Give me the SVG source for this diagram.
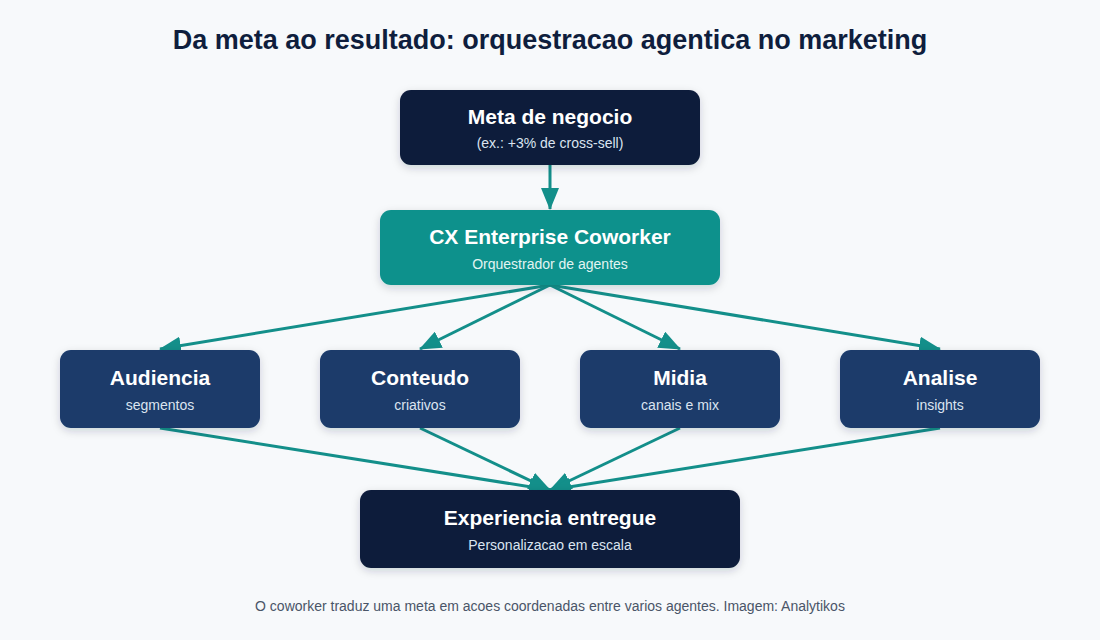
<svg xmlns="http://www.w3.org/2000/svg" width="1100" height="640" viewBox="0 0 1100 640">
  <style>
    .title { font-family: "Liberation Sans", Arial, sans-serif; font-weight: bold; font-size: 27px; fill: #0f1e3d; text-anchor: middle; }
    .nt { font-family: "Liberation Sans", Arial, sans-serif; font-weight: bold; font-size: 21px; fill: #ffffff; text-anchor: middle; }
    .ns { font-family: "Liberation Sans", Arial, sans-serif; font-size: 14px; fill: #dbe4f0; text-anchor: middle; }
    .foot { font-family: "Liberation Sans", Arial, sans-serif; font-size: 14px; fill: #4a5568; text-anchor: middle; }
    .dark { fill: #0f1c3b; }
    .teal { fill: #0f918c; }
    .blue { fill: #1a3a6b; }
    .conn { stroke: #138f8a; stroke-width: 3; fill: none; marker-end: url(#ah); }
  </style>
  <defs>
    <filter id="sh" x="-10%" y="-20%" width="120%" height="150%">
      <feDropShadow dx="0" dy="3" stdDeviation="4" flood-color="#0f1c3b" flood-opacity="0.18"/>
    </filter>
    <marker id="ah" markerUnits="userSpaceOnUse" markerWidth="22" markerHeight="18" refX="21" refY="9" orient="auto">
      <path d="M0,0 L22,9 L0,18 z" fill="#138f8a"/>
    </marker>
  </defs>
  <rect width="1100" height="640" fill="#f7f9fb"/>
  <text class="title" x="550" y="49">Da meta ao resultado: orquestracao agentica no marketing</text>

  <g id="connectors">
    <line class="conn" x1="550" y1="165" x2="550" y2="209"/>
    <line class="conn" x1="550" y1="285" x2="160" y2="349"/>
    <line class="conn" x1="550" y1="285" x2="420" y2="349"/>
    <line class="conn" x1="550" y1="285" x2="680" y2="349"/>
    <line class="conn" x1="550" y1="285" x2="940" y2="349"/>
    <line class="conn" x1="160" y1="428" x2="550" y2="490"/>
    <line class="conn" x1="420" y1="428" x2="550" y2="490"/>
    <line class="conn" x1="680" y1="428" x2="550" y2="490"/>
    <line class="conn" x1="940" y1="428" x2="550" y2="490"/>
  </g>

  <g id="meta">
    <rect class="dark" x="400" y="90" width="300" height="75" rx="11" filter="url(#sh)"/>
    <text class="nt" x="550" y="124">Meta de negocio</text>
    <text class="ns" x="550" y="148">(ex.: +3% de cross-sell)</text>
  </g>
  <g id="coworker">
    <rect class="teal" x="380" y="210" width="340" height="75" rx="11" filter="url(#sh)"/>
    <text class="nt" x="550" y="244">CX Enterprise Coworker</text>
    <text class="ns" x="550" y="269" style="fill:#e2f4f2">Orquestrador de agentes</text>
  </g>
  <g id="audiencia">
    <rect class="blue" x="60" y="350" width="200" height="78" rx="11" filter="url(#sh)"/>
    <text class="nt" x="160" y="385">Audiencia</text>
    <text class="ns" x="160" y="410">segmentos</text>
  </g>
  <g id="conteudo">
    <rect class="blue" x="320" y="350" width="200" height="78" rx="11" filter="url(#sh)"/>
    <text class="nt" x="420" y="385">Conteudo</text>
    <text class="ns" x="420" y="410">criativos</text>
  </g>
  <g id="midia">
    <rect class="blue" x="580" y="350" width="200" height="78" rx="11" filter="url(#sh)"/>
    <text class="nt" x="680" y="385">Midia</text>
    <text class="ns" x="680" y="410">canais e mix</text>
  </g>
  <g id="analise">
    <rect class="blue" x="840" y="350" width="200" height="78" rx="11" filter="url(#sh)"/>
    <text class="nt" x="940" y="385">Analise</text>
    <text class="ns" x="940" y="410">insights</text>
  </g>
  <g id="experiencia">
    <rect class="dark" x="360" y="490" width="380" height="78" rx="11" filter="url(#sh)"/>
    <text class="nt" x="550" y="525">Experiencia entregue</text>
    <text class="ns" x="550" y="550">Personalizacao em escala</text>
  </g>

  <text class="foot" x="550" y="611">O coworker traduz uma meta em acoes coordenadas entre varios agentes. Imagem: Analytikos</text>
</svg>
